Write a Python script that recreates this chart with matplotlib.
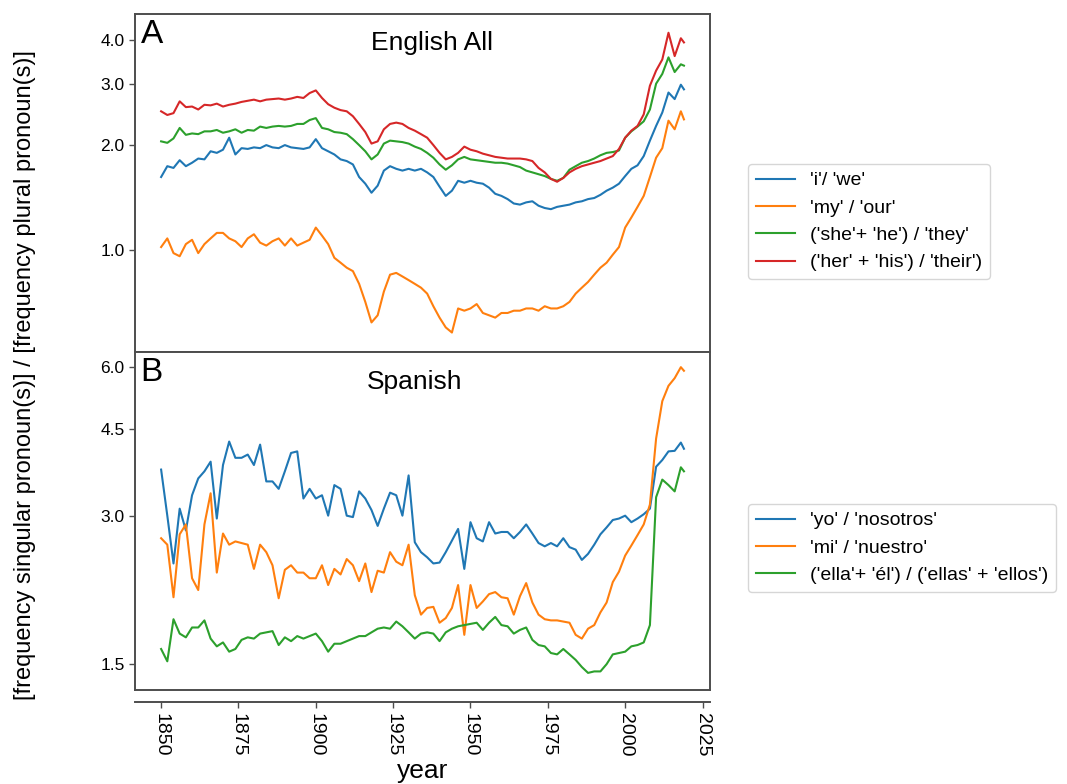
import matplotlib.pyplot as plt
from matplotlib.ticker import NullLocator

plt.rcParams['font.family'] = ['Liberation Sans', 'DejaVu Sans']

# years sampled every 2 years, plus the last year
years = list(range(1850, 2019, 2)) + [2019]

# English (all)
en_i_we = [
    1.62, 1.74, 1.72, 1.81, 1.74, 1.78, 1.83, 1.82, 1.92, 1.90,
    1.94, 2.10, 1.88, 1.96, 1.95, 1.97, 1.96, 2.00, 1.97, 1.96,
    2.00, 1.97, 1.96, 1.95, 1.97, 2.08, 1.96,
    1.92, 1.88, 1.82, 1.80, 1.76, 1.62, 1.55, 1.46, 1.53, 1.69,
    1.74, 1.71, 1.69, 1.71, 1.69, 1.71, 1.67, 1.62, 1.52, 1.43,
    1.48, 1.58, 1.56, 1.58, 1.56, 1.55, 1.51, 1.45, 1.43, 1.40,
    1.36,
    1.35, 1.37, 1.38, 1.34, 1.32, 1.31, 1.33, 1.34, 1.35, 1.37,
    1.38, 1.40, 1.41, 1.44, 1.48, 1.51, 1.55, 1.63, 1.71, 1.75,
    1.86, 2.06, 2.27, 2.48, 2.83, 2.71, 2.98, 2.89]
en_my_our = [
    1.02, 1.08, 0.98, 0.96, 1.04, 1.07, 0.98, 1.04, 1.08, 1.12,
    1.12, 1.08, 1.06, 1.02, 1.08, 1.11, 1.05, 1.03, 1.06, 1.08,
    1.03, 1.08, 1.03, 1.05, 1.07, 1.16, 1.10,
    1.04, 0.95, 0.92, 0.89, 0.87, 0.80, 0.71, 0.62, 0.65, 0.76,
    0.85, 0.86, 0.84, 0.82, 0.80, 0.78, 0.75, 0.69, 0.64, 0.60,
    0.58, 0.68, 0.67, 0.68, 0.70, 0.66, 0.65, 0.64, 0.66, 0.66,
    0.67,
    0.67, 0.68, 0.68, 0.67, 0.69, 0.68, 0.68, 0.69, 0.71, 0.75,
    0.78, 0.81, 0.85, 0.89, 0.92, 0.97, 1.02, 1.16, 1.24, 1.33,
    1.43, 1.62, 1.84, 1.96, 2.35, 2.22, 2.50, 2.37]
en_she_he = [
    2.05, 2.03, 2.09, 2.24, 2.14, 2.16, 2.15, 2.19, 2.19, 2.21,
    2.17, 2.19, 2.22, 2.17, 2.21, 2.20, 2.26, 2.24, 2.26, 2.27,
    2.26, 2.27, 2.30, 2.30, 2.36, 2.39, 2.24,
    2.22, 2.18, 2.17, 2.15, 2.08, 2.00, 1.92, 1.82, 1.88, 2.02,
    2.06, 2.05, 2.04, 2.02, 1.98, 1.95, 1.90, 1.84, 1.76, 1.70,
    1.75, 1.82, 1.85, 1.82, 1.81, 1.80, 1.79, 1.78, 1.78, 1.77,
    1.75,
    1.73, 1.69, 1.67, 1.65, 1.63, 1.60, 1.58, 1.61, 1.70, 1.74,
    1.78, 1.80, 1.83, 1.87, 1.90, 1.91, 1.93, 2.10, 2.19, 2.26,
    2.34, 2.53, 3.00, 3.20, 3.57, 3.24, 3.41, 3.38]
en_her_his = [
    2.50, 2.44, 2.47, 2.67, 2.57, 2.58, 2.53, 2.61, 2.60, 2.63,
    2.58, 2.61, 2.63, 2.66, 2.68, 2.70, 2.67, 2.70, 2.71, 2.72,
    2.70, 2.72, 2.75, 2.73, 2.82, 2.87, 2.73,
    2.62, 2.56, 2.52, 2.50, 2.42, 2.30, 2.18, 2.02, 2.05, 2.22,
    2.30, 2.32, 2.30, 2.24, 2.20, 2.15, 2.10, 2.00, 1.90, 1.82,
    1.85, 1.90, 1.98, 1.94, 1.92, 1.89, 1.87, 1.85, 1.84, 1.83,
    1.83,
    1.83, 1.82, 1.80, 1.72, 1.67, 1.60, 1.57, 1.61, 1.67, 1.71,
    1.74, 1.76, 1.78, 1.80, 1.83, 1.86, 1.95, 2.10, 2.20, 2.27,
    2.45, 2.96, 3.27, 3.52, 4.20, 3.60, 4.05, 3.94]

# Spanish
es_yo_nos = [
    3.72, 3.00, 2.40, 3.10, 2.80, 3.30, 3.57, 3.69, 3.86, 2.96,
    3.80, 4.24, 3.93, 3.93, 3.99, 3.80, 4.18, 3.52, 3.52, 3.40,
    3.69, 4.02, 4.05, 3.25, 3.40, 3.25, 3.30, 3.00, 3.46,
    3.40, 3.00, 2.98, 3.36, 3.25, 3.08, 2.86, 3.10, 3.34, 3.30,
    3.00, 3.62, 2.65, 2.53, 2.47, 2.40, 2.41, 2.53, 2.67, 2.82,
    2.34, 2.91, 2.70, 2.66, 2.91, 2.76, 2.78, 2.78, 2.70,
    2.78, 2.88, 2.76, 2.64, 2.60, 2.64, 2.60, 2.70, 2.59, 2.56,
    2.44, 2.51, 2.62, 2.75, 2.84, 2.94, 2.96, 3.00, 2.91, 2.96,
    3.02, 3.10, 3.77, 3.89, 4.05, 4.06, 4.22, 4.10]
es_mi_nuestro = [
    2.70, 2.62, 2.05, 2.75, 2.88, 2.24, 2.12, 2.88, 3.33, 2.30,
    2.76, 2.62, 2.66, 2.64, 2.62, 2.34, 2.62, 2.53, 2.38, 2.04,
    2.33, 2.38, 2.30, 2.30, 2.24, 2.24, 2.38, 2.17, 2.34,
    2.28, 2.45, 2.38, 2.21, 2.40, 2.10, 2.32, 2.30, 2.53, 2.42,
    2.38, 2.62, 2.07, 1.89, 1.95, 1.96, 1.82, 1.86, 1.95, 2.17,
    1.72, 2.17, 1.95, 2.01, 2.08, 2.10, 2.05, 2.04, 1.89,
    2.06, 2.19, 2.00, 1.89, 1.85, 1.84, 1.84, 1.83, 1.82, 1.72,
    1.69, 1.77, 1.80, 1.91, 2.00, 2.20, 2.31, 2.49, 2.61, 2.74,
    2.88, 3.16, 4.30, 5.12, 5.50, 5.70, 6.00, 5.90]
es_ella_el = [
    1.61, 1.52, 1.85, 1.73, 1.70, 1.78, 1.78, 1.84, 1.69, 1.63,
    1.66, 1.59, 1.61, 1.68, 1.70, 1.69, 1.73, 1.74, 1.75, 1.64,
    1.70, 1.67, 1.71, 1.69, 1.71, 1.73, 1.67, 1.59, 1.65,
    1.65, 1.67, 1.69, 1.71, 1.71, 1.74, 1.77, 1.78, 1.77, 1.83,
    1.79, 1.74, 1.69, 1.73, 1.74, 1.73, 1.67, 1.74, 1.77, 1.79,
    1.80, 1.81, 1.82, 1.76, 1.82, 1.87, 1.80, 1.79, 1.73,
    1.76, 1.78, 1.68, 1.64, 1.63, 1.58, 1.57, 1.61, 1.57, 1.53,
    1.48, 1.44, 1.45, 1.45, 1.50, 1.57, 1.58, 1.59, 1.63, 1.64,
    1.66, 1.80, 3.27, 3.55, 3.46, 3.36, 3.76, 3.69]

en_labels = ["'i'/ 'we'", "'my' / 'our'", "('she'+ 'he') / 'they'",
             "('her' + 'his') / 'their')"]
es_labels = ["'yo' / 'nosotros'", "'mi' / 'nuestro'",
             "('ella'+ 'él') / ('ellas' + 'ellos')"]
en_ticks = [1.0, 2.0, 3.0, 4.0]
es_ticks = [1.5, 3.0, 4.5, 6.0]
year_ticks = [1850, 1875, 1900, 1925, 1950, 1975, 2000, 2025]

colors = ['tab:blue', 'tab:orange', 'tab:green', 'tab:red']
frame = '0.3'

fig = plt.figure(figsize=(10.67, 7.84), dpi=100)
ax1 = fig.add_axes([0.1265, 0.551, 0.539, 0.431])
ax2 = fig.add_axes([0.1265, 0.120, 0.539, 0.431])

for vals, lab, c in zip([en_i_we, en_my_our, en_she_he, en_her_his], en_labels, colors):
    ax1.plot(years, vals, color=c, lw=1.5, label=lab)
for vals, lab, c in zip([es_yo_nos, es_mi_nuestro, es_ella_el], es_labels, colors):
    ax2.plot(years, vals, color=c, lw=1.5, label=lab)

ax1.set_yscale('log')
ax1.set_ylim(0.51, 4.75)
ax1.set_yticks(en_ticks)
ax1.set_yticklabels(['%.1f' % t for t in en_ticks])
ax1.yaxis.set_minor_locator(NullLocator())
ax1.tick_params(axis='x', bottom=False, labelbottom=False)

ax2.set_yscale('log')
ax2.set_ylim(1.33, 6.44)
ax2.set_yticks(es_ticks)
ax2.set_yticklabels(['%.1f' % t for t in es_ticks])
ax2.yaxis.set_minor_locator(NullLocator())
ax2.set_xticks(year_ticks)
ax2.set_xticklabels([str(y) for y in year_ticks])
ax2.set_xlim(ax1.get_xlim())

for ax in [ax1, ax2]:
    for s in ax.spines.values():
        s.set_color(frame)
        s.set_linewidth(1.4)
    ax.tick_params(length=4, width=1, color=frame, labelsize=12.5)
ax2.tick_params(axis='x', labelrotation=270, labelsize=14)

# x axis line drawn a bit below the box
ax2.spines['bottom'].set_position(('outward', 9))
ax2.plot([0, 1], [0, 0], transform=ax2.transAxes, color=frame, lw=1.4, clip_on=False)

ax1.text(0.01, 0.985, 'A', transform=ax1.transAxes, fontsize=24, va='top', ha='left')
ax2.text(0.01, 0.985, 'B', transform=ax2.transAxes, fontsize=24, va='top', ha='left')
ax1.text(0.517, 0.915, 'English All', transform=ax1.transAxes, fontsize=19, ha='center', va='center')
ax2.text(0.487, 0.912, 'Spanish', transform=ax2.transAxes, fontsize=19, ha='center', va='center')

ax1.legend(loc='center left', bbox_to_anchor=(1.066, 0.386), fontsize=14, borderaxespad=0)
ax2.legend(loc='center left', bbox_to_anchor=(1.066, 0.42), fontsize=14, borderaxespad=0)

ax2.set_xlabel('year', fontsize=19, labelpad=2)
fig.text(0.023, 0.522, '[frequency singular pronoun(s)] / [frequency plural pronoun(s)]',
         rotation=90, ha='center', va='center', fontsize=17)

plt.savefig('out.png', dpi=100)
